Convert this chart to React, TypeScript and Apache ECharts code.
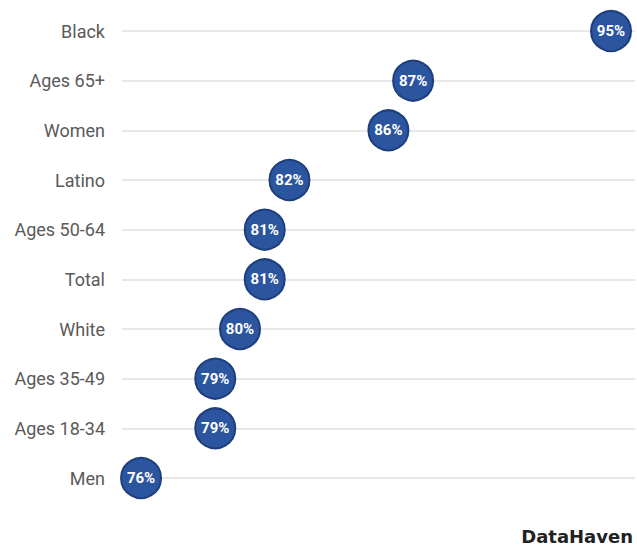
import React, { useEffect, useRef } from "react";
import * as echarts from "echarts";

const categories = ["Black", "Ages 65+", "Women", "Latino", "Ages 50-64", "Total", "White", "Ages 35-49", "Ages 18-34", "Men"];
const values = [95, 87, 86, 82, 81, 81, 80, 79, 79, 76];
const sourceLabel = "DataHaven";

export default function App() {
  const ref = useRef<HTMLDivElement>(null);
  useEffect(() => {
    const chart = echarts.init(ref.current!, null, { renderer: "svg" });
    chart.setOption({
      animation: false,
      grid: { left: 122, right: 2, top: 31, bottom: 69, containLabel: false },
      xAxis: {
        type: "value",
        min: 75.23,
        max: 95.97,
        axisLine: { show: false },
        axisTick: { show: false },
        axisLabel: { show: false },
        splitLine: { show: false },
      },
      yAxis: {
        type: "category",
        data: categories,
        inverse: true,
        boundaryGap: false,
        axisLine: { show: false },
        axisTick: { show: false },
        axisLabel: { color: "#5a5a5a", fontSize: 18, fontFamily: "Roboto", margin: 17 },
        splitLine: { show: true, lineStyle: { color: "#e8e8e8", width: 2 } },
      },
      series: [
        {
          type: "scatter",
          data: values.map((v, i) => [v, categories[i]]),
          symbol: "circle",
          symbolSize: 40,
          itemStyle: { color: "#2c55a0", borderColor: "#1e3f7e", borderWidth: 2, opacity: 1 },
          label: {
            show: true,
            position: "inside",
            formatter: (p: any) => p.value[0] + "%",
            color: "#fff",
            fontSize: 15,
            fontWeight: "bold",
            fontFamily: "Roboto",
          },
        },
      ],
      graphic: [
        {
          type: "text",
          right: 4,
          top: 527,
          style: { text: sourceLabel, fill: "#222", fontSize: 18, fontWeight: "bold", fontFamily: "DejaVu Sans" },
        },
      ],
    });
    return () => chart.dispose();
  }, []);
  return <div ref={ref} style={{ width: 637, height: 547, position: "absolute", left: 0, top: 0 }} />;
}
